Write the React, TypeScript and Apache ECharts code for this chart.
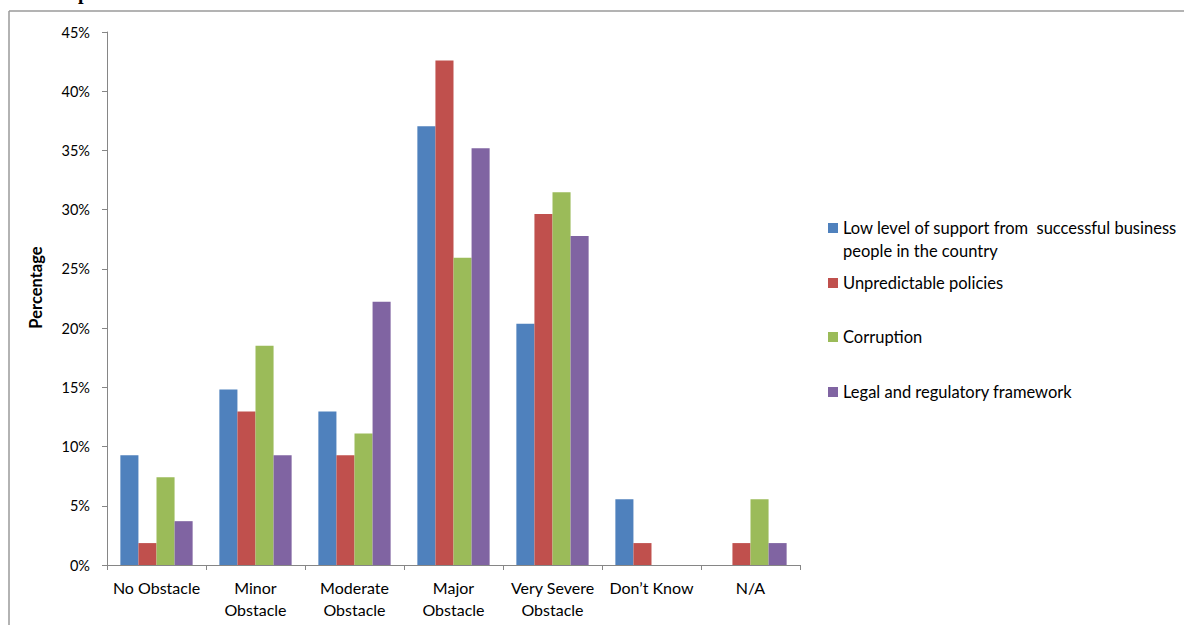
import React, { useEffect, useRef } from "react";
import * as echarts from "echarts";

const categories = [
  "No Obstacle",
  "Minor\nObstacle",
  "Moderate\nObstacle",
  "Major\nObstacle",
  "Very Severe\nObstacle",
  "Don’t Know",
  "N/A",
];

const seriesNames = [
  "Low level of support from  successful business people in the country",
  "Unpredictable policies",
  "Corruption",
  "Legal and regulatory framework",
];

const lowSupport = [9.26, 14.81, 12.96, 37.04, 20.37, 5.56, 0];
const unpredictable = [1.85, 12.96, 9.26, 42.59, 29.63, 1.85, 1.85];
const corruption = [7.41, 18.52, 11.11, 25.93, 31.48, 0, 5.56];
const legal = [3.7, 9.26, 22.22, 35.19, 27.78, 0, 1.85];

const colors = ["#4F81BD", "#C0504D", "#9BBB59", "#8064A2"];
const yTicks = { min: 0, max: 45, interval: 5 };

const FONT = "Lato";

export default function App() {
  const ref = useRef<HTMLDivElement>(null);

  useEffect(() => {
    document.body.style.margin = "0";
    if (!ref.current) return;
    const chart = echarts.init(ref.current, undefined, { renderer: "svg" });
    const values = [lowSupport, unpredictable, corruption, legal];
    const legendTops = [193.5, 271.5, 325.5, 380.5];
    chart.setOption({
      animation: false,
      backgroundColor: "#ffffff",
      textStyle: { fontFamily: FONT },
      grid: { left: 107, right: 384, top: 32, bottom: 60, containLabel: false },
      legend: seriesNames.map((name, i) => ({
        data: [name],
        orient: "vertical",
        left: 828,
        top: legendTops[i],
        padding: 0,
        itemWidth: 10,
        itemHeight: 10,
        icon: "rect",
        selectedMode: false,
        formatter: (n: string) =>
          i === 0 ? "\nLow level of support from  successful business\npeople in the country" : n,
        textStyle: {
          fontFamily: FONT,
          fontSize: 16.5,
          color: "#000",
          lineHeight: 23,
        },
      })),
      xAxis: {
        type: "category",
        data: categories,
        axisLine: { lineStyle: { color: "#868686", width: 1 } },
        axisTick: { show: true, length: 5, interval: 0, alignWithLabel: false, lineStyle: { color: "#868686" } },
        axisLabel: {
          interval: 0,
          margin: 11,
          fontFamily: FONT,
          fontSize: 16,
          lineHeight: 22,
          color: "#000",
        },
        splitLine: { show: false },
      },
      yAxis: {
        type: "value",
        min: yTicks.min,
        max: yTicks.max,
        interval: yTicks.interval,
        axisLine: { show: true, lineStyle: { color: "#868686", width: 1 } },
        axisTick: { show: true, length: 5, lineStyle: { color: "#868686" } },
        axisLabel: {
          formatter: "{value}%",
          margin: 17,
          fontFamily: FONT,
          fontSize: 14.5,
          color: "#000",
        },
        splitLine: { show: false },
      },
      series: seriesNames.map((name, i) => ({
        name,
        type: "bar",
        data: values[i],
        barGap: "0%",
        barCategoryGap: "27%",
        itemStyle: { color: colors[i] },
      })),
      graphic: [
        {
          type: "line",
          shape: { x1: 9, y1: 11, x2: 1184, y2: 11 },
          style: { stroke: "#9a9a9a", lineWidth: 1.5 },
        },
        {
          type: "line",
          shape: { x1: 9, y1: 11, x2: 9, y2: 625 },
          style: { stroke: "#9a9a9a", lineWidth: 1.5 },
        },
        {
          type: "text",
          x: 36,
          y: 287.5,
          rotation: Math.PI / 2,
          style: {
            text: "Percentage",
            font: "bold 16.5px Lato",
            fill: "#000",
            align: "center",
            verticalAlign: "middle",
          },
        },
        {
          type: "text",
          x: 78,
          y: 2,
          style: {
            text: "p",
            font: "bold 20px 'Liberation Serif'",
            fill: "#000",
            verticalAlign: "bottom",
          },
        },
      ],
    });
    return () => chart.dispose();
  }, []);

  return <div ref={ref} style={{ width: 1184, height: 625 }} />;
}
